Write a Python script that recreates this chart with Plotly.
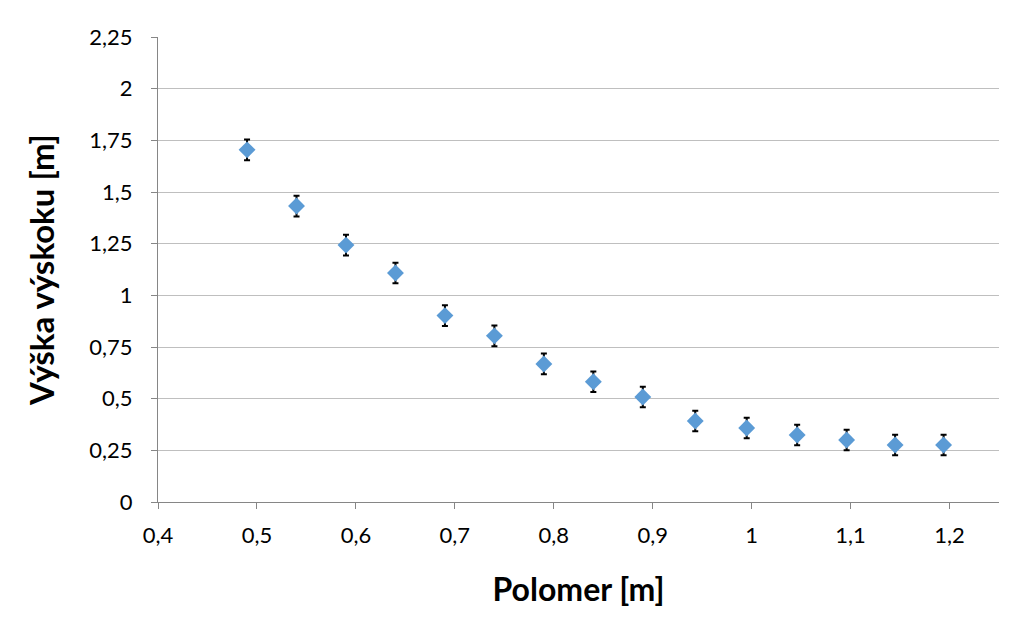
import plotly.graph_objects as go

polomer = [0.49, 0.54, 0.59, 0.64, 0.69, 0.74, 0.79, 0.84, 0.89, 0.943, 0.995, 1.046, 1.096, 1.145, 1.194]
vyska = [1.704, 1.432, 1.243, 1.108, 0.902, 0.804, 0.668, 0.582, 0.508, 0.392, 0.358, 0.324, 0.300, 0.276, 0.276]
chyba = [0.05] * len(vyska)

x_tickvals = [0.4, 0.5, 0.6, 0.7, 0.8, 0.9, 1.0, 1.1, 1.2]
x_ticktext = ["0,4", "0,5", "0,6", "0,7", "0,8", "0,9", "1", "1,1", "1,2"]
y_tickvals = [0, 0.25, 0.5, 0.75, 1, 1.25, 1.5, 1.75, 2, 2.25]
y_ticktext = ["0", "0,25", "0,5", "0,75", "1", "1,25", "1,5", "1,75", "2", "2,25"]

fig = go.Figure()
fig.add_trace(go.Scatter(
    x=polomer, y=vyska, mode="markers",
    marker=dict(symbol="diamond", size=13, color="#5B9BD5"),
    error_y=dict(type="data", array=chyba, visible=True, color="black", thickness=2, width=3),
    showlegend=False,
))

font_family = "Lato, 'Open Sans', sans-serif"
fig.update_layout(
    width=1001, height=603,
    margin=dict(l=150, r=10, t=29, b=109),
    paper_bgcolor="white", plot_bgcolor="white",
    font=dict(family=font_family, color="black", size=22),
    xaxis=dict(
        range=[0.4, 1.25], tickvals=x_tickvals, ticktext=x_ticktext,
        showgrid=False, zeroline=False,
        showline=True, linecolor="#868686", linewidth=1.3,
        ticks="outside", ticklen=6, tickcolor="#868686",
        tickfont=dict(size=22), ticklabelstandoff=7,
        title=dict(text="<b>Polomer [m]</b>", font=dict(size=32), standoff=32),
    ),
    yaxis=dict(
        range=[0, 2.25], tickvals=y_tickvals, ticktext=y_ticktext,
        showgrid=True, gridcolor="#BFBFBF", gridwidth=1, zeroline=False,
        showline=True, linecolor="#868686", linewidth=1.3,
        ticks="outside", ticklen=6, tickcolor="#868686",
        tickfont=dict(size=22), ticklabelstandoff=14,
        title=dict(text="<b>Výška výskoku [m]</b>", font=dict(size=33), standoff=24),
    ),
)

fig.write_html("out.html")
